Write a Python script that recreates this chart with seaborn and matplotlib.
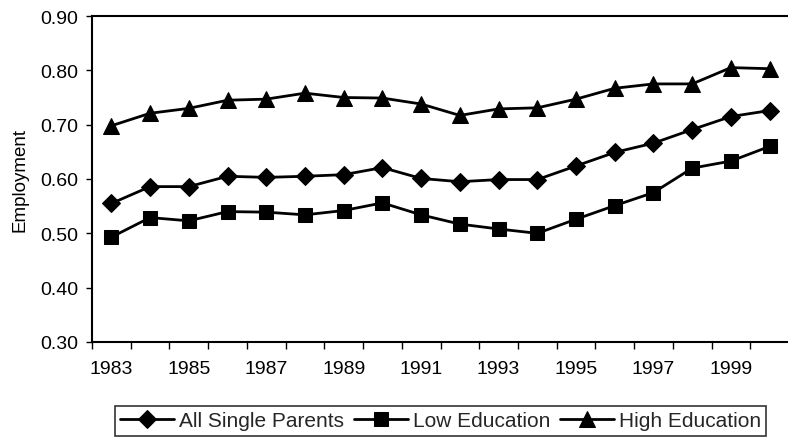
import matplotlib
matplotlib.use("Agg")
import matplotlib.pyplot as plt
import seaborn as sns
import numpy as np
from matplotlib.ticker import FixedLocator, FuncFormatter

years = list(range(1983, 2001))
all_single = [0.555, 0.586, 0.586, 0.605, 0.603, 0.605, 0.608, 0.621, 0.601, 0.595,
              0.599, 0.599, 0.624, 0.649, 0.666, 0.691, 0.715, 0.726]
low_edu = [0.493, 0.529, 0.523, 0.540, 0.539, 0.534, 0.542, 0.556, 0.534, 0.517,
           0.508, 0.500, 0.526, 0.551, 0.575, 0.620, 0.633, 0.660]
high_edu = [0.698, 0.721, 0.730, 0.745, 0.747, 0.758, 0.750, 0.749, 0.738, 0.717,
            0.729, 0.731, 0.747, 0.767, 0.775, 0.775, 0.805, 0.803]
series_names = ["All Single Parents", "Low Education", "High Education"]
y_ticks = [0.30, 0.40, 0.50, 0.60, 0.70, 0.80, 0.90]
x_labels = [1983, 1985, 1987, 1989, 1991, 1993, 1995, 1997, 1999]

sns.set_theme(style="white")
plt.rcParams['font.family'] = ['Liberation Sans', 'DejaVu Sans']

fig = plt.figure(figsize=(7.88, 4.39), dpi=100)
ax = fig.add_axes([92/788, 1 - 343/439, 697/788, (343 - 17)/439])

specs = [(all_single, "D", 9), (low_edu, "s", 10), (high_edu, "^", 11)]
for (vals, mk, ms), name in zip(specs, series_names):
    sns.lineplot(x=years, y=vals, ax=ax, color="black", marker=mk, markersize=ms,
                 linewidth=2.0, markeredgecolor="black", markerfacecolor="black",
                 label=name)

ax.set_xlim(1982.5, 2000.5)
ax.set_ylim(0.30, 0.90)
ax.set_yticks(y_ticks)
ax.yaxis.set_major_formatter(FuncFormatter(lambda v, p: f"{v:.2f}"))
ax.set_xticks(x_labels)
ax.set_xticklabels([str(x) for x in x_labels])
ax.xaxis.set_minor_locator(FixedLocator(np.arange(1982.5, 2001, 1.0)))
ax.tick_params(axis="x", which="major", length=0, labelsize=14, pad=13, colors="black")
ax.tick_params(axis="x", which="minor", length=5, width=1, direction="out", bottom=True, color="black")
ax.tick_params(axis="y", which="major", length=4, width=1, direction="out", left=True,
               labelsize=14, pad=6, colors="black")
ax.set_ylabel("Employment", fontsize=13.5, color="black", labelpad=8)
ax.set_xlabel("")

for s in ["left", "top", "bottom"]:
    ax.spines[s].set_visible(True)
    ax.spines[s].set_color("black")
    ax.spines[s].set_linewidth(1.5)
ax.spines["right"].set_visible(False)
ax.grid(False)

leg = ax.legend(loc="center", bbox_to_anchor=(440.5/788, 1 - 422/439),
                bbox_transform=fig.transFigure, ncol=3, frameon=True, fancybox=False,
                edgecolor="black", fontsize=15, handlelength=2.6, handletextpad=0.25,
                columnspacing=0.45, borderpad=0.25, borderaxespad=0)
leg.get_frame().set_linewidth(1.2)

fig.savefig("out.png", dpi=100)
